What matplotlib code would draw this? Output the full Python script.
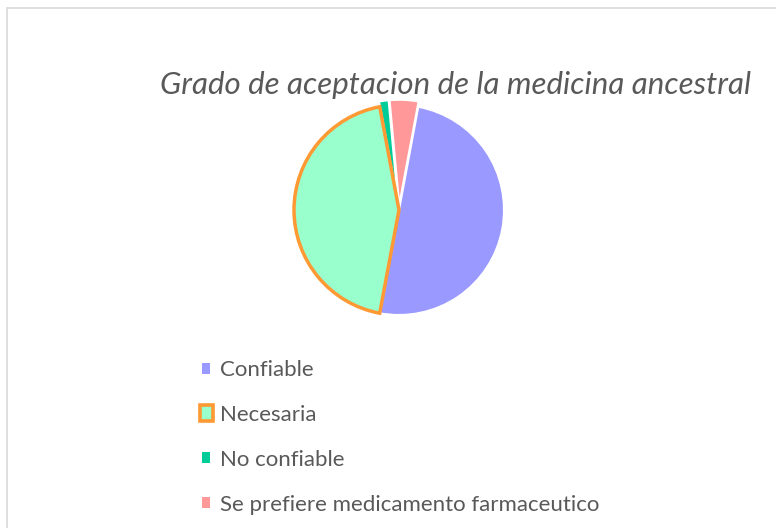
import matplotlib.pyplot as plt
from matplotlib.patches import Patch, Rectangle
from matplotlib.legend_handler import HandlerPatch

# data
labels = ["Confiable", "Necesaria", "No confiable", "Se prefiere medicamento farmaceutico"]
counts = [34, 30, 1, 3]
colors = ["#9999FF", "#99FFCC", "#00CC99", "#FF9999"]
explode = [0, 0, 0.05, 0.05]
title = "Grado de aceptacion de la medicina ancestral"

plt.rcParams['font.family'] = ['Lato', 'DejaVu Sans']

W, H = 776, 528
fig = plt.figure(figsize=(W / 100, H / 100), dpi=100)

# chart frame, runs off the right and bottom edges
fig.patches.append(Rectangle((7 / W, -0.1), 1.0, 1.1 - 8 / H, transform=fig.transFigure,
                             fill=False, edgecolor="#D9D9D9", linewidth=1.2))

# pie axes: centre (398, 210) px, radius about 105 px
side = 252
ax = fig.add_axes([(399 - side / 2) / W, (H - 210 - side / 2) / H, side / W, side / H])
wedges, _ = ax.pie(counts, colors=colors, explode=explode, startangle=79.4,
                   counterclock=False, wedgeprops=dict(edgecolor="white", linewidth=1.5))
wedges[1].set_edgecolor("#FF9933")
wedges[1].set_linewidth(2.5)
wedges[1].set_zorder(3)
ax.set_xlim(-1.2, 1.2)
ax.set_ylim(-1.2, 1.2)
ax.set_aspect('equal')

fig.text(455 / W, 1 - 85 / H, title, ha="center", va="center", fontsize=22.5,
         style="italic", color="#595959")


def big_box(legend, orig_handle, xdescent, ydescent, width, height, fontsize):
    # the outlined entry sits in a box that grows outward
    pad = 1.6
    return Rectangle((-xdescent - pad, -ydescent - pad), width + 2 * pad, height + 2 * pad)


handles = []
for i, c in enumerate(colors):
    if i == 1:
        handles.append(Patch(facecolor=c, edgecolor="#FF9933", linewidth=2.6))
    else:
        handles.append(Patch(facecolor=c, edgecolor="none"))
fig.legend(handles, labels, loc="upper left", bbox_to_anchor=(202 / W, 1 - 360 / H),
           frameon=False, fontsize=16, labelcolor="#595959", borderpad=0,
           borderaxespad=0, handlelength=0.38, handleheight=0.38, handletextpad=0.45,
           labelspacing=1.12, handler_map={handles[1]: HandlerPatch(patch_func=big_box)})

fig.savefig("out.png", dpi=100)
